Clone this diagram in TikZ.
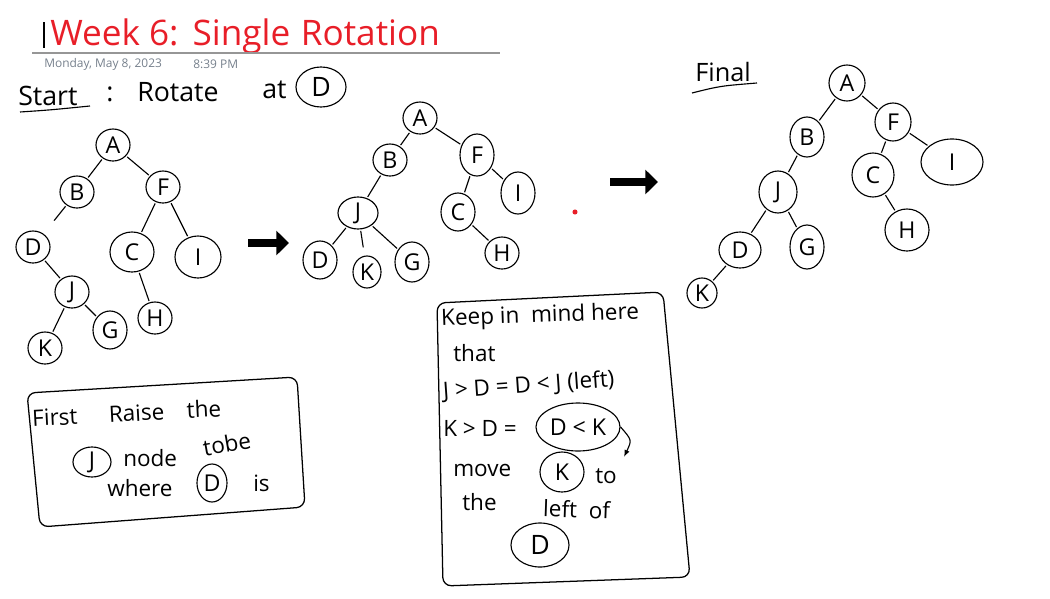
\documentclass[tikz,border=0pt]{standalone}
\usepackage{fontspec}
\setmainfont{Open Sans}
\usetikzlibrary{shapes.geometric,arrows.meta}
\definecolor{titre}{RGB}{232,30,40}
\definecolor{filet}{RGB}{150,150,150}
\definecolor{horodate}{RGB}{118,128,140}
\tikzset{
  cercle/.style={draw, ellipse, line width=0.8pt, minimum width=0.85cm, minimum height=0.8cm, inner sep=0pt, font=\fontsize{16.5}{19}\selectfont},
  lien/.style={line width=0.8pt, shorten <=1pt, shorten >=1pt},
  texte/.style={anchor=west, inner sep=0pt, font=\fontsize{16}{19}\selectfont},
  fleche/.style={line width=5pt, -{Triangle[length=9pt,width=17pt]}},
  cadre/.style={line width=0.9pt, rounded corners=6pt}
}

\begin{document}
\begin{tikzpicture}[x=0.025cm, y=-0.025cm]
    \useasboundingbox (0,0) rectangle (1050,598);

    % En-tête de la page
    \draw[line width=0.8pt] (44,22) -- (44,48);
    \node[texte, text=titre, font=\fontsize{25}{29}\selectfont] (titre) at (50,36) {Week 6:\hspace{0.4em}Single\hspace{0.3em}Rotation};
    \draw[filet, line width=0.8pt] (32,53) -- (500,53);
    \node[texte, text=horodate, font=\fontsize{8.5}{10}\selectfont] (jour) at (44,64) {Monday, May 8, 2023};
    \node[texte, text=horodate, font=\fontsize{8.5}{10}\selectfont] (heure) at (193,64) {8:39 PM};

    % Consigne de départ
    \node[texte, font=\fontsize{19}{22}\selectfont] (start) at (18,96) {Start};
    \draw[line width=0.8pt] (20,112) .. controls (50,110) .. (90,106);
    \node[texte, font=\fontsize{19}{22}\selectfont] (deuxpts) at (106,94) {:};
    \node[texte, font=\fontsize{19}{22}\selectfont] (rotate) at (137,92) {Rotate};
    \node[texte, font=\fontsize{19}{22}\selectfont] (at) at (262,90) {at};
    \node[cercle, minimum width=1.25cm, minimum height=1cm, font=\fontsize{19}{22}\selectfont] (dcible) at (321,87) {D};

    % Arbre de départ
    \node[cercle] (a1) at (113,145) {A};
    \node[cercle] (b1) at (77,192) {B};
    \node[cercle] (f1) at (163,187) {F};
    \node[cercle] (d1) at (33,247) {D};
    \node[cercle, minimum width=1.1cm, minimum height=1cm] (c1) at (132,252) {C};
    \node[cercle, minimum width=1.15cm, minimum height=1.05cm] (i1) at (198,257) {I};
    \node[cercle] (j1) at (72,292) {J};
    \node[cercle] (h1) at (155,318) {H};
    \node[cercle, minimum height=0.95cm] (g1) at (110,330) {G};
    \node[cercle] (k1) at (45,348) {K};
    \draw[lien] (a1) -- (b1);
    \draw[lien] (a1) -- (f1);
    \draw[lien, shorten >=12pt] (b1) -- (d1);
    \draw[lien] (f1) -- (c1);
    \draw[lien] (f1) -- (i1);
    \draw[lien] (d1) -- (j1);
    \draw[lien] (c1) -- (h1);
    \draw[lien] (j1) -- (k1);
    \draw[lien] (j1) -- (g1);

    % Première flèche
    \coordinate (fl1a) at (248,243);
    \coordinate (fl1b) at (289,243);
    \draw[fleche] (fl1a) -- (fl1b);

    % Arbre intermédiaire
    \node[cercle] (a2) at (420,118) {A};
    \node[cercle] (b2) at (390,160) {B};
    \node[cercle, minimum height=1.05cm] (f2) at (477,155) {F};
    \node[cercle, minimum height=1.05cm] (i2) at (518,193) {I};
    \node[cercle, minimum width=1cm] (j2) at (358,213) {J};
    \node[cercle, minimum height=0.95cm] (c2) at (458,212) {C};
    \node[cercle] (h2) at (502,253) {H};
    \node[cercle, minimum height=0.95cm] (d2) at (320,260) {D};
    \node[cercle, minimum width=0.7cm] (k2) at (367,272) {K};
    \node[cercle, minimum height=1cm] (g2) at (412,262) {G};
    \draw[lien] (a2) -- (b2);
    \draw[lien] (a2) -- (f2);
    \draw[lien] (b2) -- (j2);
    \draw[lien] (f2) -- (c2);
    \draw[lien] (f2) -- (i2);
    \draw[lien] (j2) -- (d2);
    \draw[lien, shorten >=6pt] (j2) -- (k2);
    \draw[lien] (j2) -- (g2);
    \draw[lien] (c2) -- (h2);
    \fill[titre] (575,212) circle (1.8pt);

    % Deuxième flèche
    \coordinate (fl2a) at (610,182);
    \coordinate (fl2b) at (658,182);
    \draw[fleche] (fl2a) -- (fl2b);

    % Arbre final
    \node[texte, font=\fontsize{18}{21}\selectfont] (final) at (695,72) {Final};
    \draw[line width=0.8pt] (692,93) .. controls (720,86) .. (757,83);
    \node[cercle, minimum width=0.9cm, minimum height=0.9cm] (a3) at (847,83) {A};
    \node[cercle, minimum width=0.85cm, minimum height=1cm] (b3) at (807,137) {B};
    \node[cercle, minimum width=0.9cm, minimum height=0.95cm] (f3) at (893,122) {F};
    \node[cercle, minimum width=0.95cm, minimum height=1.05cm] (j3) at (778,192) {J};
    \node[cercle, minimum width=1.05cm, minimum height=1.1cm] (c3) at (873,175) {C};
    \node[cercle, minimum width=1.55cm, minimum height=1.15cm] (i3) at (952,162) {I};
    \node[cercle, minimum width=1.05cm, minimum height=0.9cm] (d3) at (740,250) {D};
    \node[cercle, minimum width=0.85cm, minimum height=1.1cm] (g3) at (807,247) {G};
    \node[cercle, minimum width=1.1cm, minimum height=1.05cm] (h3) at (907,230) {H};
    \node[cercle, minimum width=0.75cm, minimum height=0.75cm] (k3) at (702,293) {K};
    \draw[lien] (a3) -- (b3);
    \draw[lien] (a3) -- (f3);
    \draw[lien] (b3) -- (j3);
    \draw[lien] (j3) -- (d3);
    \draw[lien] (j3) -- (g3);
    \draw[lien] (d3) -- (k3);
    \draw[lien] (f3) -- (c3);
    \draw[lien] (f3) -- (i3);
    \draw[lien] (c3) -- (h3);

    % Encadré de gauche
    \draw[cadre] (27,393) -- (297,377) -- (305,507) -- (40,527) -- cycle;
    \node[texte, rotate=3] (first) at (32,418) {First\hspace{1.4em}Raise\hspace{1em}the};
    \node[cercle, minimum width=0.95cm, minimum height=0.75cm] (jbox) at (92,462) {J};
    \node[texte] (node) at (123,458) {node};
    \node[texte, rotate=10] (tobe) at (203,448) {tobe};
    \node[texte] (where) at (107,488) {where};
    \node[cercle, minimum width=0.75cm, minimum height=0.95cm] (dbox) at (212,483) {D};
    \node[texte] (is) at (253,483) {is};

    % Encadré de droite
    \draw[cadre] (437,303) -- (663,292) -- (690,577) -- (443,586) -- cycle;
    \node[texte, rotate=2] (keep) at (441,320) {Keep in \ mind here};
    \node[texte] (that) at (453,353) {that};
    \node[texte, rotate=4] (jd) at (443,392) {J > D = D < J (left)};
    \node[texte] (kd) at (443,428) {K > D =};
    \node[cercle, minimum width=2.1cm, minimum height=1.2cm] (dk) at (578,427) {D < K};
    \coordinate (bout) at (624,457);
    \draw[line width=0.8pt, -{Latex[length=5pt]}] (dk.east) .. controls (632,440) .. (bout);
    \node[texte] (move) at (453,470) {move};
    \node[cercle, minimum width=1.1cm, minimum height=1cm] (kmove) at (562,472) {K};
    \node[texte] (to) at (595,476) {to};
    \node[texte] (the) at (462,502) {the};
    \node[texte, rotate=-2] (leftof) at (543,508) {left \ of};
    \node[cercle, minimum width=1.45cm, minimum height=1.1cm, font=\fontsize{19}{22}\selectfont] (dfin) at (540,545) {D};
\end{tikzpicture}
\end{document}
